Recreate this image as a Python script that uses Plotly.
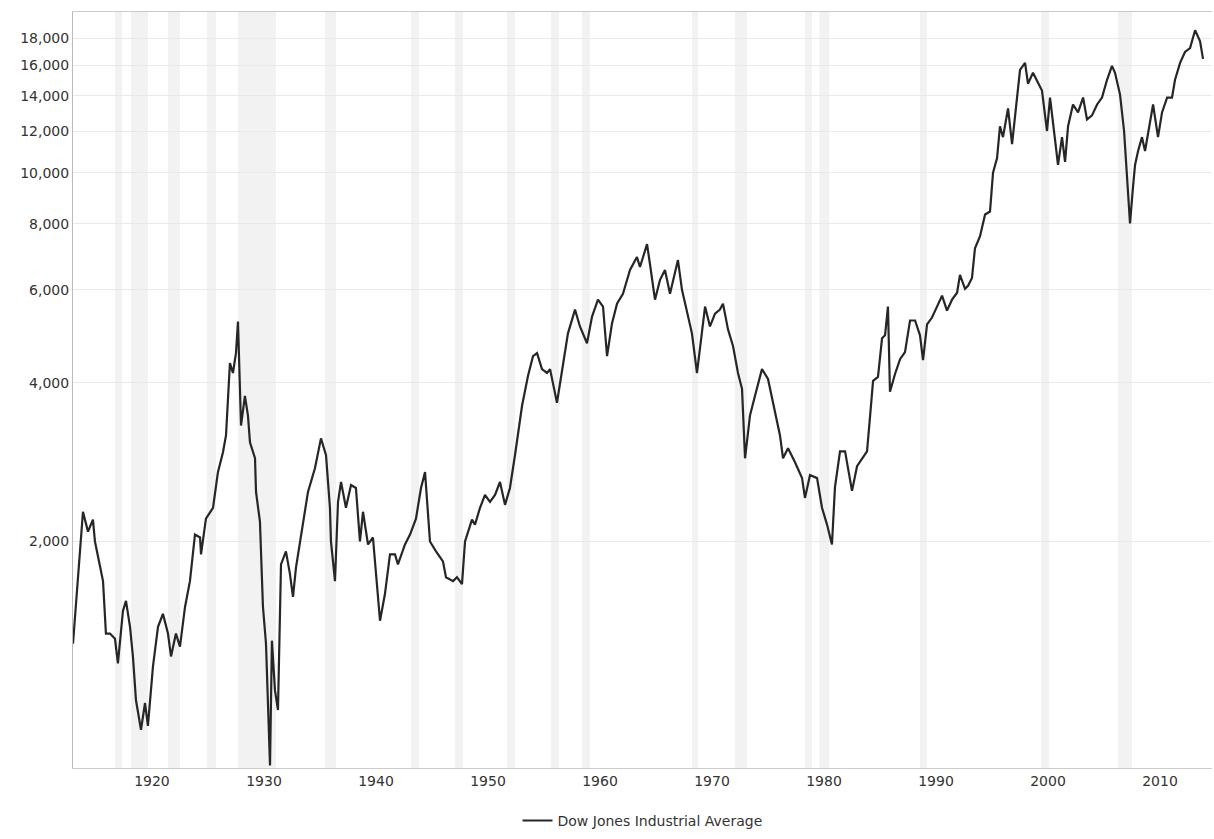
import plotly.graph_objects as go
import math

# Dow Jones Industrial Average (log scale)
years = [
    1912.95, 1913.39, 1913.84, 1914.29, 1914.73, 1914.91, 1915.18, 1915.63, 1915.89, 1916.25,
    1916.70, 1916.96, 1917.41, 1917.68, 1918.04, 1918.30, 1918.57, 1919.02, 1919.38, 1919.64,
    1920.09, 1920.54, 1920.98, 1921.43, 1921.70, 1922.14, 1922.50, 1922.95, 1923.39, 1923.84,
    1924.29, 1924.38, 1924.82, 1925.45, 1925.89, 1926.34, 1926.61, 1926.96, 1927.23, 1927.50,
    1927.68, 1927.95, 1928.30, 1928.57, 1928.75, 1929.20, 1929.29, 1929.64, 1929.91, 1930.18,
    1930.54, 1930.71, 1930.98, 1931.25, 1931.52, 1931.96, 1932.32, 1932.59, 1932.86, 1933.48,
    1933.93, 1934.55, 1935.09, 1935.54, 1935.89, 1935.98, 1936.34, 1936.61, 1936.88, 1937.32,
    1937.77, 1938.21, 1938.57, 1938.84, 1939.29, 1939.73, 1940.36, 1940.80, 1941.25, 1941.70,
    1941.96, 1942.59, 1943.04, 1943.57, 1944.02, 1944.38, 1944.82, 1945.36, 1945.98, 1946.25,
    1946.88, 1947.23, 1947.68, 1947.95, 1948.57, 1948.84, 1949.29, 1949.73, 1950.18, 1950.63,
    1951.07, 1951.52, 1951.96, 1952.41, 1953.04, 1953.57, 1954.02, 1954.38, 1954.82, 1955.27,
    1955.54, 1956.16, 1956.61, 1957.14, 1957.77, 1958.21, 1958.84, 1959.29, 1959.82, 1960.27,
    1960.63, 1961.07, 1961.52, 1962.05, 1962.68, 1963.30, 1963.57, 1964.20, 1964.46, 1964.91,
    1965.36, 1965.80, 1966.25, 1966.70, 1966.96, 1967.32, 1967.77, 1968.21, 1968.66, 1968.93,
    1969.38, 1969.82, 1970.27, 1970.71, 1970.98, 1971.43, 1971.88, 1972.32, 1972.68, 1972.95,
    1973.39, 1973.84, 1974.46, 1975.00, 1975.45, 1976.07, 1976.34, 1976.79, 1977.41, 1978.04,
    1978.30, 1978.75, 1979.38, 1979.82, 1980.27, 1980.71, 1980.98, 1981.43, 1981.88, 1982.14,
    1982.50, 1982.95, 1983.39, 1983.84, 1984.11, 1984.38, 1984.82, 1985.18, 1985.45, 1985.71,
    1985.89, 1986.34, 1986.79, 1987.23, 1987.68, 1988.13, 1988.57, 1988.84, 1989.20, 1989.64,
    1990.09, 1990.54, 1990.98, 1991.43, 1991.88, 1992.14, 1992.59, 1992.86, 1993.21, 1993.48,
    1993.93, 1994.38, 1994.82, 1995.09, 1995.45, 1995.71, 1995.98, 1996.43, 1996.79, 1997.23,
    1997.50, 1997.95, 1998.21, 1998.66, 1999.11, 1999.46, 1999.91, 2000.18, 2000.63, 2000.89,
    2001.25, 2001.52, 2001.79, 2002.23, 2002.68, 2003.13, 2003.48, 2003.93, 2004.38, 2004.82,
    2005.27, 2005.71, 2005.98, 2006.43, 2006.79, 2007.05, 2007.32, 2007.59, 2007.77, 2008.04,
    2008.39, 2008.66, 2009.11, 2009.38, 2009.82, 2010.18, 2010.63, 2011.07, 2011.34, 2011.79,
    2012.23, 2012.68, 2013.13, 2013.57, 2013.84,
]
dow_values = [
    1280, 1682, 2277, 2088, 2200, 2000, 1866, 1682, 1338, 1338,
    1308, 1175, 1477, 1543, 1378, 1211, 1001, 879, 988, 894,
    1159, 1378, 1458, 1338, 1211, 1338, 1264, 1503, 1682, 2061,
    2035, 1890, 2209, 2317, 2707, 2952, 3177, 4357, 4173, 4550,
    5225, 3317, 3777, 3465, 3083, 2876, 2483, 2181, 1503, 1280,
    752, 1297, 1045, 958, 1810, 1915, 1734, 1570, 1787, 2181,
    2483, 2754, 3137, 2914, 2317, 2000, 1682, 2378, 2593, 2317,
    2559, 2526, 2000, 2277, 1974, 2035, 1415, 1590, 1890, 1890,
    1810, 1974, 2061, 2209, 2526, 2707, 2000, 1915, 1834, 1711,
    1682, 1711, 1660, 2000, 2200, 2153, 2317, 2451, 2378, 2451,
    2593, 2347, 2526, 2914, 3617, 4119, 4491, 4550, 4244, 4173,
    4244, 3665, 4244, 4961, 5504, 5113, 4751, 5339, 5747, 5575,
    4491, 5180, 5648, 5898, 6544, 6921, 6628, 7322, 6715, 5747,
    6267, 6544, 5898, 6431, 6832, 6000, 5409, 4961, 4173, 4630,
    5575, 5113, 5409, 5504, 5648, 5048, 4689, 4173, 3894, 2876,
    3465, 3777, 4244, 4066, 3665, 3177, 2876, 3004, 2827, 2637,
    2419, 2672, 2637, 2317, 2153, 1974, 2537, 2965, 2965, 2742,
    2494, 2778, 2864, 2965, 3450, 4031, 4101, 4855, 4918, 5575,
    3844, 4155, 4433, 4570, 5248, 5248, 4918, 4414, 5158, 5316,
    5575, 5847, 5479, 5747, 5923, 6403, 6026, 6106, 6320, 7194,
    7580, 8337, 8445, 10000, 10667, 12251, 11682, 13242, 11333, 13651,
    15676, 16158, 14755, 15474, 14755, 14316, 12000, 13888, 11531, 10349,
    11682, 10484, 12251, 13474, 13015, 13888, 12624, 12848, 13474, 13888,
    15008, 15950, 15474, 14070, 12000, 10000, 8019, 9410, 10349, 10996,
    11682, 10996, 12464, 13474, 11682, 13015, 13888, 13888, 15008, 16158,
    16946, 17241, 18636, 17771, 16439,
]

# Shaded periods (recession bands as drawn in the chart)
band_starts = [1916.70, 1918.13, 1921.43, 1924.91, 1927.68, 1935.45, 1943.13, 1947.05, 1951.70,
               1955.63, 1958.39, 1968.21, 1972.05, 1978.30, 1979.59, 1988.57, 1999.38, 2006.25]
band_ends = [1917.32, 1919.64, 1922.50, 1925.71, 1931.07, 1936.43, 1943.84, 1947.77, 1952.41,
             1956.34, 1959.11, 1968.75, 1973.13, 1978.93, 1980.48, 1989.20, 2000.09, 2007.50]

x_ticks = [1920, 1930, 1940, 1950, 1960, 1970, 1980, 1990, 2000, 2010]
y_ticks = [2000, 4000, 6000, 8000, 10000, 12000, 14000, 16000, 18000]
y_tick_labels = ["2,000", "4,000", "6,000", "8,000", "10,000", "12,000", "14,000", "16,000", "18,000"]

fig = go.Figure()
fig.add_trace(go.Scatter(
    x=years, y=dow_values, mode="lines",
    name="Dow Jones Industrial Average",
    line=dict(color="#262626", width=2.2),
))

for s, e in zip(band_starts, band_ends):
    fig.add_shape(type="rect", xref="x", yref="paper", x0=s, x1=e, y0=0, y1=1,
                  fillcolor="#f2f2f2", line=dict(width=0), layer="below")

font_family = "DejaVu Sans, Verdana, sans-serif"
fig.update_layout(
    width=1214, height=839,
    margin=dict(l=73, r=2, t=12, b=63),
    paper_bgcolor="white", plot_bgcolor="white",
    font=dict(family=font_family, size=14, color="#333333"),
    showlegend=True,
    legend=dict(orientation="h", x=0.5, xanchor="center", y=-0.07, yanchor="middle",
                font=dict(size=14, color="#333333"), itemwidth=30),
    xaxis=dict(
        range=[1912.95, 2014.64], tickvals=x_ticks, ticktext=[str(t) for t in x_ticks],
        showgrid=False, zeroline=False, showline=True, linecolor="#cccccc", linewidth=1,
        mirror=True, ticks="", tickfont=dict(size=14, color="#333333"),
    ),
    yaxis=dict(
        type="log", range=[math.log10(744), math.log10(20175)],
        tickvals=y_ticks, ticktext=y_tick_labels,
        showgrid=True, gridcolor="#e9e9e9", gridwidth=1, zeroline=False,
        showline=True, linecolor="#bbbbbb", linewidth=1, ticks="",
        tickfont=dict(size=14, color="#333333"),
    ),
)

fig.write_html("out.html")
